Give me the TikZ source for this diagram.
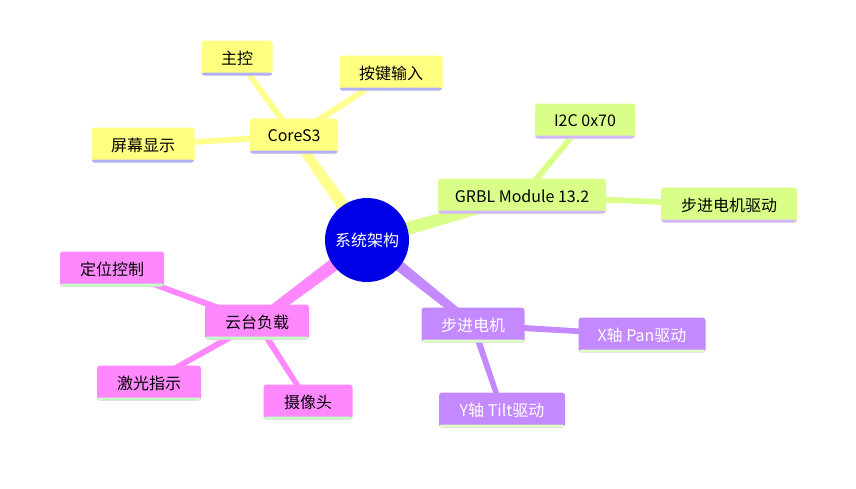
\documentclass[tikz,border=0pt]{standalone}
\usepackage{fontspec}
\setmainfont{Noto Sans CJK SC}
\usetikzlibrary{calc,backgrounds}

\definecolor{rootblue}{HTML}{0000E6}
\definecolor{yfill}{HTML}{FFFF80}
\definecolor{yline}{HTML}{B0B0FF}
\definecolor{gfill}{HTML}{D9FF88}
\definecolor{gline}{HTML}{D4B8FF}
\definecolor{pfill}{HTML}{FF88FF}
\definecolor{pline}{HTML}{C4FFC4}
\definecolor{vfill}{HTML}{C488FF}
\definecolor{vline}{HTML}{E0FFC4}

\tikzset{
  topic/.style={rectangle, rounded corners=3pt, minimum height=35pt,
    inner xsep=0pt, font=\fontsize{16}{19}\selectfont},
  under/.style={path picture={\fill[#1] ([yshift=3pt]path picture bounding box.south west)
    rectangle (path picture bounding box.south east);}},
  ytopic/.style={topic, fill=yfill, under=yline, text=black},
  gtopic/.style={topic, fill=gfill, under=gline, text=black},
  ptopic/.style={topic, fill=pfill, under=pline, text=black},
  vtopic/.style={topic, fill=vfill, under=vline, text=white},
}

% tapered branch between two nodes
\newcommand{\branch}[5]{%
  \fill[#5] ($(#1)!#3!90:(#2)$) -- ($(#2)!#4!-90:(#1)$) --
    ($(#2)!#4!90:(#1)$) -- ($(#1)!#3!-90:(#2)$) -- cycle;}

\begin{document}
\begin{tikzpicture}[x=1pt,y=-1pt]
  \useasboundingbox (0,0) rectangle (856,488);

  \node[circle, fill=rootblue, minimum size=84pt, inner sep=0pt, text=white,
        font=\fontsize{16}{19}\selectfont] (root) at (367,240) {系统架构};

  % CoreS3
  \node[ytopic, minimum width=88pt]  (core)  at (294,136) {CoreS3};
  \node[ytopic, minimum width=71pt]  (main)  at (237,58)  {主控};
  \node[ytopic, minimum width=103pt] (keys)  at (391,73)  {按键输入};
  \node[ytopic, minimum width=103pt] (disp)  at (143,145) {屏幕显示};

  % GRBL
  \node[gtopic, minimum width=168pt] (grbl)  at (522,196) {GRBL Module 13.2};
  \node[gtopic, minimum width=100pt] (i2c)   at (585,121) {I2C 0x70};
  \node[gtopic, minimum width=136pt] (drv)   at (729,205) {步进电机驱动};

  % gimbal
  \node[ptopic, minimum width=104pt] (load)  at (257,322) {云台负载};
  \node[ptopic, minimum width=104pt] (pos)   at (112,269) {定位控制};
  \node[ptopic, minimum width=104pt] (laser) at (149,383) {激光指示};
  \node[ptopic, minimum width=89pt]  (cam)   at (308,402) {摄像头};

  % motors
  \node[vtopic, minimum width=103pt] (motor) at (473,325) {步进电机};
  \node[vtopic, minimum width=127pt] (xpan)  at (642,335) {X轴 Pan驱动};
  \node[vtopic, minimum width=126pt] (ytilt) at (502,410) {Y轴 Tilt驱动};

  \begin{pgfonlayer}{background}
    \branch{root}{core}{6.5pt}{4.5pt}{yfill!90!white}
    \branch{root}{grbl}{7pt}{5pt}{gfill}
    \branch{root}{load}{7pt}{5pt}{pfill}
    \branch{root}{motor}{6pt}{4pt}{vfill}

    \branch{core}{main}{3.2pt}{2.6pt}{yfill!90!white}
    \branch{core}{keys}{3.2pt}{2.6pt}{yfill!90!white}
    \branch{core}{disp}{3.2pt}{2.6pt}{yfill!90!white}
    \branch{grbl}{i2c}{3.2pt}{2.6pt}{gfill}
    \branch{grbl}{drv}{3.2pt}{2.6pt}{gfill}
    \branch{load}{pos}{3.2pt}{2.6pt}{pfill}
    \branch{load}{laser}{3.2pt}{2.6pt}{pfill}
    \branch{load}{cam}{3.2pt}{2.6pt}{pfill}
    \branch{motor}{xpan}{3.2pt}{2.6pt}{vfill}
    \branch{motor}{ytilt}{3.2pt}{2.6pt}{vfill}
  \end{pgfonlayer}
\end{tikzpicture}
\end{document}
